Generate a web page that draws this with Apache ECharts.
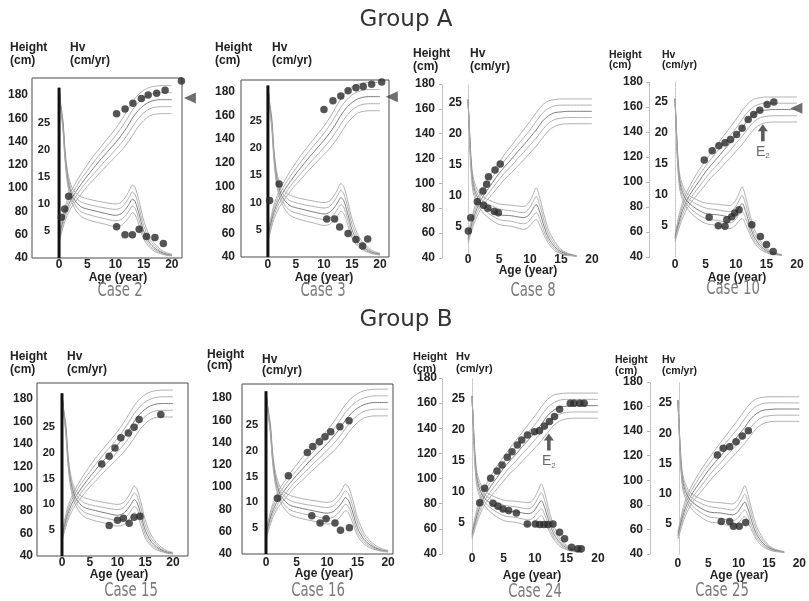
<!DOCTYPE html>
<html>
<head>
<meta charset="utf-8">
<title>Group A / Group B growth charts</title>
<script src="https://cdn.jsdelivr.net/npm/echarts@6.0.0/dist/echarts.min.js"></script>
<style>
    html, body { margin: 0; padding: 0; background: #fff; }
    #main { width: 809px; height: 601px; }
</style>
</head>
<body>
<div id="main"></div>
<script>
// reference curves: height (cm) by age (year), -2SD .. +2SD
var refAge = [0, 1, 2, 3, 4, 5, 6, 7, 8, 9, 10, 11, 12, 13, 14, 15, 16, 17, 18, 20];
var boyHtP2 = [61, 83, 96, 105, 113, 120, 127, 133, 139, 145, 151, 158, 166, 174, 180, 184, 186.5, 187.5, 188, 188];
var boyHtP1 = [59, 80, 92.5, 101, 108.5, 115, 121.5, 127.5, 133.5, 139, 145, 151.5, 159, 167, 173, 177.5, 180, 181.5, 182, 182];
var boyHtM = [57, 77, 89, 97, 104, 110.5, 116.5, 122.5, 128, 133.5, 139, 145, 152, 160, 166.5, 171, 174, 175.5, 176, 176];
var boyHtM1 = [55, 74, 85.5, 93, 100, 106, 111.5, 117, 122.5, 127.5, 133, 138.5, 145, 152.5, 159.5, 164.5, 168, 169.5, 170, 170];
var boyHtM2 = [53, 71, 82, 89, 95.5, 101.5, 106.5, 112, 117, 122, 127, 132, 138, 145, 152.5, 158, 162, 163.5, 164, 164];

var girlHtP2 = [58, 80, 93, 102, 110, 117, 124, 130.5, 137, 143.5, 150, 157, 163, 166.5, 167.5, 168, 168, 168, 168, 168];
var girlHtP1 = [56.5, 77, 89.5, 98, 105.5, 112.5, 119, 125, 131, 137, 143, 150, 156.5, 160.5, 162.5, 163, 163, 163, 163, 163];
var girlHtM = [55, 74, 86, 94, 101, 108, 114, 119.5, 125.5, 131, 137, 143, 150, 154.5, 157, 157.5, 158, 158, 158, 158];
var girlHtM1 = [53.5, 71, 82.5, 90, 96.5, 103, 109, 114, 120, 125, 131, 136.5, 143, 148.5, 151.5, 152.5, 153, 153, 153, 153];
var girlHtM2 = [52, 68, 79, 86, 92, 98, 104, 108.5, 114, 119, 124.5, 130, 136.5, 142.5, 146, 147.5, 148, 148, 148, 148];

// reference curves: height velocity (cm/yr)
var boyHvAge = [0, 0.3, 0.7, 1.1, 1.6, 2.3, 3, 4, 6, 8, 10, 11, 12, 12.5, 13, 13.5, 14.2, 15, 16, 17, 18, 19, 20];
var boyHvP2 = [31.5, 28.5, 25.5, 19.5, 15.5, 13.0, 12.0, 11.3, 10.7, 10.3, 10.0, 10.3, 11.6, 12.6, 13.5, 13.0, 10.5, 7.0, 4.2, 2.6, 1.6, 1.0, 0.7];
var boyHvP1 = [31.5, 28.2, 25.0, 19.0, 14.8, 12.3, 11.2, 10.3, 9.7, 9.3, 9.0, 9.3, 10.5, 11.4, 12.2, 11.7, 9.3, 6.0, 3.5, 2.2, 1.3, 0.8, 0.6];
var boyHvM = [31.5, 28.0, 24.5, 18.5, 14.2, 11.6, 10.4, 9.4, 8.8, 8.3, 7.9, 8.2, 9.3, 10.1, 10.9, 10.4, 8.1, 5.0, 2.9, 1.8, 1.1, 0.7, 0.5];
var boyHvM1 = [31.5, 27.8, 24.0, 18.0, 13.6, 10.9, 9.6, 8.5, 7.8, 7.3, 6.9, 7.1, 8.1, 8.9, 9.6, 9.2, 7.0, 4.2, 2.4, 1.5, 0.9, 0.6, 0.4];
var boyHvM2 = [31.5, 27.5, 23.5, 17.5, 13.0, 10.2, 8.8, 7.6, 6.8, 6.3, 5.8, 6.0, 7.0, 7.7, 8.4, 8.0, 6.0, 3.5, 2.0, 1.2, 0.8, 0.5, 0.4];
var boySpikeAge = [0, 0];
var boySpikeHv = [0, 31.5];

var girlHvAge = [0, 0.2, 0.4, 0.7, 1, 1.5, 2, 3, 5, 7, 9, 9.8, 10.4, 11, 11.6, 12.3, 13, 14, 15, 16, 17.5];
var girlHvP2 = [25.5, 21.5, 17.5, 13.8, 12.3, 11.0, 10.2, 9.5, 8.7, 8.5, 8.3, 8.9, 10.0, 11.3, 9.6, 6.8, 4.5, 2.6, 1.4, 0.8, 0.4];
var girlHvP1 = [25.5, 21.2, 17.0, 13.2, 11.7, 10.4, 9.6, 8.8, 7.9, 7.6, 7.3, 7.9, 8.9, 9.9, 8.4, 5.9, 3.8, 2.2, 1.2, 0.7, 0.3];
var girlHvM = [25.5, 21.0, 16.5, 12.6, 11.1, 9.8, 9.0, 8.1, 7.0, 6.8, 6.5, 6.9, 7.8, 8.6, 7.3, 5.0, 3.2, 1.8, 1.0, 0.6, 0.3];
var girlHvM1 = [25.5, 20.8, 16.0, 12.0, 10.5, 9.2, 8.4, 7.4, 6.2, 5.9, 5.5, 5.9, 6.7, 7.3, 6.2, 4.2, 2.7, 1.5, 0.8, 0.5, 0.3];
var girlHvM2 = [25.5, 20.5, 15.5, 11.4, 9.9, 8.6, 7.8, 6.7, 5.4, 5.1, 4.6, 5.0, 5.7, 6.2, 5.2, 3.6, 2.3, 1.2, 0.7, 0.4, 0.3];

// patients
var case2HtAge = [0.4, 1.0, 1.7, 10.2, 11.7, 13.1, 14.6, 15.8, 17.3, 18.8, 21.7];
var case2Ht = [75, 82, 93, 164, 168, 173, 177, 180, 181.5, 184, 192];
var case2HvAge = [10.2, 11.7, 13.0, 14.2, 15.5, 17.0, 18.5];
var case2Hv = [5.8, 4.3, 4.3, 5.3, 4.0, 3.8, 2.7];
var case2Target = [23.2, 177.5];

var case3HtAge = [0.3, 2.0, 10.0, 11.6, 13.0, 14.3, 15.7, 17.0, 18.5, 20.3];
var case3Ht = [88, 102, 165, 172.5, 176.5, 181, 183.5, 184.5, 186.5, 188.5];
var case3HvAge = [10.5, 11.9, 12.8, 14.3, 15.7, 16.9, 17.8];
var case3Hv = [7.0, 7.0, 5.5, 4.3, 3.2, 2.0, 3.3];
var case3Target = [22.1, 176];

var case8HtAge = [0.05, 0.43, 1.5, 2.4, 3.0, 3.3, 4.35, 5.2];
var case8Ht = [61.7, 72.4, 85.3, 93.9, 99.3, 105.4, 110.8, 115.6];
var case8HvAge = [2.5, 3.2, 4.25, 4.9];
var case8Hv = [8.5, 8.0, 7.5, 7.3];

var case10HtAge = [4.8, 6.1, 7.2, 8.2, 9.1, 10.1, 11.0, 12.0, 12.9, 13.9, 15.1, 16.2];
var case10Ht = [117.6, 125, 129, 131.5, 134, 138, 143, 150, 154, 157.5, 162, 164];
var case10HvAge = [5.6, 7.1, 8.2, 8.5, 9.3, 9.8, 10.5, 12.6, 14.0, 15.0, 16.1];
var case10Hv = [6.4, 5.05, 4.95, 6.0, 6.5, 7.1, 7.6, 5.2, 3.3, 2.0, 0.9];
var case10Target = [19.9, 159];
var case10E2 = [14.4, 139.5];

var case15HtAge = [7.15, 8.5, 9.55, 10.6, 11.95, 13.0, 13.9, 17.8];
var case15Ht = [122.1, 129, 136.4, 145.4, 149.8, 154.9, 161.7, 166.2];
var case15HvAge = [8.5, 10.0, 11.05, 12.1, 13.0, 14.05];
var case15Hv = [5.9, 6.9, 7.3, 6.35, 7.5, 7.7];

var case16HtAge = [1.86, 3.66, 6.77, 7.65, 8.74, 9.67, 10.6, 12.1, 13.6];
var case16Ht = [90, 110.3, 131, 136.4, 140.8, 145.3, 149.8, 154.3, 159.7];
var case16HvAge = [7.5, 8.85, 9.84, 11.3, 12.2, 13.66];
var case16Hv = [7.4, 6.0, 6.8, 6.0, 4.6, 5.1];

var case24HtAge = [1.22, 2.0, 2.96, 3.97, 4.76, 5.6, 6.35, 7.2, 7.9, 8.8, 9.9, 10.7, 11.5, 12.3, 13.1, 13.9, 15.6, 16.2, 17.1, 17.8];
var case24Ht = [80.8, 92.3, 100.2, 106, 110.8, 116.9, 121.4, 126.7, 130.7, 134.7, 137.3, 138.1, 141.9, 145.3, 149.3, 155.1, 159.9, 159.9, 159.9, 159.9];
var case24HvAge = [3.33, 4.13, 4.92, 5.82, 7.04, 8.78, 10.05, 10.74, 11.43, 12.06, 12.86, 13.9, 14.7, 15.8, 16.8, 17.35];
var case24Hv = [8.2, 7.7, 7.25, 7.0, 6.6, 4.85, 4.85, 4.75, 4.75, 4.75, 4.85, 3.5, 2.45, 1.1, 0.85, 0.85];
var case24E2 = [12.2, 129];

var case25HtAge = [6.5, 7.46, 8.52, 9.58, 10.6, 11.6];
var case25Ht = [120.6, 126, 127.3, 131.4, 136, 140.4];
var case25HvAge = [7.14, 8.52, 9.15, 10.1, 11.16];
var case25Hv = [5.4, 5.4, 4.6, 4.6, 5.2];

// tick labels
var ageTicks = [0, 5, 10, 15, 20];
var htTicks = [40, 60, 80, 100, 120, 140, 160, 180];
var hvTicks = [5, 10, 15, 20, 25];

(function (win) {
    var chart = echarts.init(document.getElementById('main'));
    var FONT = '"Liberation Sans", Arial, sans-serif';
    var ARROW = 'path://M5,0 L10,7 L6.8,7 L6.8,17 L3.2,17 L3.2,7 L0,7 Z';

    var boyRefs = {
        ht: [boyHtP2, boyHtP1, boyHtM, boyHtM1, boyHtM2],
        hvAge: boyHvAge,
        hv: [boyHvP2, boyHvP1, boyHvM, boyHvM1, boyHvM2]
    };
    var girlRefs = {
        ht: [girlHtP2, girlHtP1, girlHtM, girlHtM1, girlHtM2],
        hvAge: girlHvAge,
        hv: [girlHvP2, girlHvP1, girlHvM, girlHvM1, girlHvM2]
    };

    // layout of the 8 small charts (pixels)
    var panels = [
        {name: 'Case 2', refs: boyRefs, box: true, left: 32, top: 78, width: 150, height: 180,
            xMin: -4.8, xMax: 21.8, htMax: 194.6, hvMax: 33.3, htMargin: 4, hvMargin: 9, ageMargin: 1, hvFont: 11,
            htAge: case2HtAge, ht: case2Ht, hvAge: case2HvAge, hv: case2Hv, target: case2Target,
            head: [10, 70, 48, 61, 0], headFont: 12, ageTitle: [118, 278], caseTitle: [120, 291]},
        {name: 'Case 3', refs: boyRefs, box: true, left: 241, top: 80, width: 148, height: 177,
            xMin: -4.8, xMax: 21.6, htMax: 190.1, hvMax: 32.5, htMargin: 6, hvMargin: 6, ageMargin: 2, hvFont: 11,
            htAge: case3HtAge, ht: case3Ht, hvAge: case3HvAge, hv: case3Hv, target: case3Target,
            head: [215, 272, 48, 61, 0], headFont: 12, ageTitle: [324, 278], caseTitle: [323, 291]},
        {name: 'Case 8', refs: girlRefs, box: false, left: 442, top: 84, width: 150, height: 174,
            xMin: -4.2, xMax: 20, htMax: 180, hvMax: 28, htMargin: 7, hvMargin: 6, ageMargin: -4, hvFont: 12,
            htAge: case8HtAge, ht: case8Ht, hvAge: case8HvAge, hv: case8Hv,
            head: [413, 470, 54, 67, 0], headFont: 12, ageTitle: [528, 271], caseTitle: [533, 291]},
        {name: 'Case 10', refs: girlRefs, box: false, left: 649, top: 82, width: 148, height: 175,
            xMin: -4.26, xMax: 20, htMax: 180, hvMax: 28.2, htMargin: 6, hvMargin: 7, ageMargin: 2, hvFont: 12,
            htAge: case10HtAge, ht: case10Ht, hvAge: case10HvAge, hv: case10Hv, target: case10Target, e2: case10E2,
            head: [609, 662, 55, 65, 0], headFont: 10.5, ageTitle: [737, 278], caseTitle: [733, 289]},
        {name: 'Case 15', refs: boyRefs, box: true, left: 37, top: 383, width: 151, height: 173,
            xMin: -4.5, xMax: 22.7, htMax: 194.3, hvMax: 33.5, htMargin: 4, hvMargin: 7, ageMargin: 1, hvFont: 11,
            htAge: case15HtAge, ht: case15Ht, hvAge: case15HvAge, hv: case15Hv,
            head: [10, 67, 357, 370, 0], headFont: 12, ageTitle: [119, 575], caseTitle: [131, 591]},
        {name: 'Case 16', refs: boyRefs, box: true, left: 242, top: 384, width: 151, height: 170,
            xMin: -3.93, xMax: 20.8, htMax: 192.6, hvMax: 32.9, htMargin: 10, hvMargin: 8, ageMargin: 3, hvFont: 11,
            htAge: case16HtAge, ht: case16Ht, hvAge: case16HvAge, hv: case16Hv,
            head: [207, 262, 355, 366, 5], headFont: 12, ageTitle: [324, 574], caseTitle: [318, 591]},
        {name: 'Case 24', refs: girlRefs, box: false, left: 442, top: 378, width: 156, height: 176,
            xMin: -4.76, xMax: 20, htMax: 180, hvMax: 28.4, htMargin: 5, hvMargin: 7, ageMargin: -1, hvFont: 12,
            htAge: case24HtAge, ht: case24Ht, hvAge: case24HvAge, hv: case24Hv, e2: case24E2,
            head: [413, 456, 357, 369, 0], headFont: 11, ageTitle: [532, 576], caseTitle: [535, 592]},
        {name: 'Case 25', refs: girlRefs, box: false, left: 650, top: 382, width: 155, height: 172,
            xMin: -4.6, xMax: 20, htMax: 180, hvMax: 28.5, htMargin: 7, hvMargin: 7, ageMargin: 4, hvFont: 12,
            htAge: case25HtAge, ht: case25Ht, hvAge: case25HvAge, hv: case25Hv,
            head: [615, 662, 360, 371, 0], headFont: 10.5, ageTitle: [739, 576], caseTitle: [722, 591]}
    ];

    function pairs(xs, ys) {
        return xs.map(function (x, i) {
            return [x, ys[i]];
        });
    }

    function labelStyle(size, margin, values) {
        return {
            customValues: values,
            margin: margin,
            fontSize: size,
            fontWeight: 'bold',
            color: '#222',
            fontFamily: FONT
        };
    }

    function text(x, y, str, font, align, extra) {
        var el = {
            type: 'text',
            x: x,
            y: y,
            silent: true,
            style: {
                text: str,
                font: font,
                fill: '#222',
                align: align || 'left',
                verticalAlign: 'middle'
            }
        };
        if (extra) {
            for (var k in extra) el[k] = extra[k];
        }
        return el;
    }

    var grids = [], xAxes = [], yAxes = [], series = [], texts = [];
    var refColors = ['#a8a8a8', '#a8a8a8', '#707070', '#a8a8a8', '#a8a8a8'];

    panels.forEach(function (p, i) {
        var htIdx = i * 2, hvIdx = i * 2 + 1;
        // the Hv axis stands at age 0, inside the plot
        var hvShift = (0 - p.xMin) / (p.xMax - p.xMin) * p.width;

        grids.push({
            left: p.left, top: p.top, width: p.width, height: p.height,
            show: p.box, borderColor: '#4a4a4a', borderWidth: 1
        });

        xAxes.push({
            type: 'value', gridIndex: i, min: p.xMin, max: p.xMax,
            axisLine: {show: false, onZero: false},
            axisTick: {show: false},
            splitLine: {show: false},
            axisLabel: labelStyle(12, p.ageMargin, ageTicks)
        });

        yAxes.push({
            type: 'value', gridIndex: i, position: 'left', min: 40, max: p.htMax,
            axisLine: {show: !p.box, onZero: false, lineStyle: {color: '#b5b5b5', type: 'dotted', width: 1}},
            axisTick: {show: !p.box, customValues: htTicks, length: 3, lineStyle: {color: '#b5b5b5'}},
            splitLine: {show: false},
            axisLabel: labelStyle(12, p.htMargin, htTicks)
        });

        yAxes.push({
            type: 'value', gridIndex: i, position: 'left', offset: -hvShift, min: 0, max: p.hvMax,
            axisLine: {show: !p.box, onZero: false, lineStyle: {color: '#c0c0c0', type: 'dotted', width: 1}},
            axisTick: {show: false},
            splitLine: {show: false},
            axisLabel: labelStyle(p.hvFont, p.hvMargin, hvTicks)
        });

        // reference curves
        p.refs.ht.forEach(function (curve, k) {
            series.push({
                type: 'line', xAxisIndex: i, yAxisIndex: htIdx, data: pairs(refAge, curve),
                symbol: 'none', smooth: 0.3, silent: true, z: 2,
                lineStyle: {color: refColors[k], width: 0.9}
            });
        });
        p.refs.hv.forEach(function (curve, k) {
            series.push({
                type: 'line', xAxisIndex: i, yAxisIndex: hvIdx, data: pairs(p.refs.hvAge, curve),
                symbol: 'none', smooth: 0.3, silent: true, z: 2,
                lineStyle: {color: refColors[k], width: 0.9}
            });
        });
        if (p.refs === boyRefs) {
            series.push({
                type: 'line', xAxisIndex: i, yAxisIndex: hvIdx, data: pairs(boySpikeAge, boySpikeHv),
                symbol: 'none', silent: true, z: 3,
                lineStyle: {color: '#111', width: 3}
            });
        }

        // patient points
        series.push({
            type: 'scatter', xAxisIndex: i, yAxisIndex: htIdx, data: pairs(p.htAge, p.ht),
            symbolSize: 7.5, itemStyle: {color: '#2a2a2a'}, silent: true, z: 5, clip: false
        });
        series.push({
            type: 'scatter', xAxisIndex: i, yAxisIndex: hvIdx, data: pairs(p.hvAge, p.hv),
            symbolSize: 7.5, itemStyle: {color: '#2a2a2a'}, silent: true, z: 5
        });
        if (p.target) {
            series.push({
                type: 'scatter', xAxisIndex: i, yAxisIndex: htIdx, data: [p.target],
                symbol: 'triangle', symbolRotate: 90, symbolSize: [11, 12],
                itemStyle: {color: '#4a4a4a'}, silent: true, z: 6, clip: false
            });
        }
        if (p.e2) {
            series.push({
                type: 'scatter', xAxisIndex: i, yAxisIndex: htIdx, data: [p.e2],
                symbol: ARROW, symbolSize: [10, 17],
                itemStyle: {color: '#333'}, silent: true, z: 6,
                label: {
                    show: true, position: 'bottom', distance: 3,
                    formatter: '{e|E}{s|2}',
                    rich: {
                        e: {fontSize: 14, color: '#444', fontFamily: FONT, lineHeight: 16},
                        s: {fontSize: 8, color: '#444', fontFamily: FONT, verticalAlign: 'bottom', lineHeight: 9}
                    }
                }
            });
        }

        // headings and captions
        var hf = 'bold ' + p.headFont + 'px ' + FONT;
        texts.push(text(p.head[0], p.head[2], 'Height', hf));
        texts.push(text(p.head[0], p.head[3], '(cm)', hf));
        texts.push(text(p.head[1], p.head[2] + p.head[4], 'Hv', hf));
        texts.push(text(p.head[1], p.head[3] + p.head[4], '(cm/yr)', hf));
        texts.push(text(p.ageTitle[0], p.ageTitle[1], 'Age (year)', 'bold 12px ' + FONT, 'center'));
        var cap = text(p.caseTitle[0], p.caseTitle[1], p.name, '19px "DejaVu Sans", sans-serif', 'center', {scaleX: 0.7});
        cap.style.fill = '#7a7a7a';
        texts.push(cap);
    });

    var gA = text(406, 20, 'Group A', '23px "DejaVu Sans", sans-serif', 'center');
    var gB = text(406, 320, 'Group B', '23px "DejaVu Sans", sans-serif', 'center');
    gA.style.fill = gB.style.fill = '#333';
    texts.push(gA, gB);

    chart.setOption({
        backgroundColor: '#fff',
        animation: false,
        grid: grids,
        xAxis: xAxes,
        yAxis: yAxes,
        series: series,
        graphic: {elements: texts}
    });
})(this);
</script>
</body>
</html>
